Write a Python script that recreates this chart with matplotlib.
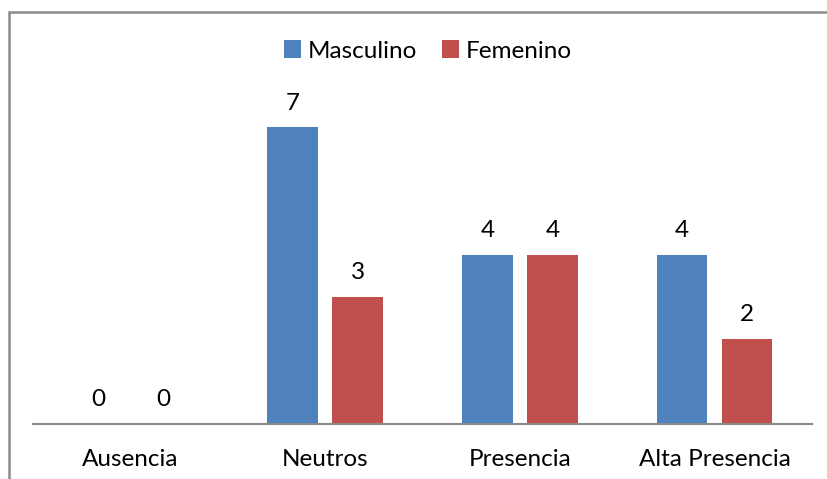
import matplotlib.pyplot as plt
import numpy as np
from matplotlib.patches import Rectangle

categorias = ['Ausencia', 'Neutros', 'Presencia', 'Alta Presencia']
masculino = [0, 7, 4, 4]
femenino = [0, 3, 4, 2]

plt.rcParams['font.family'] = ['Lato', 'DejaVu Sans']
fs = 17.5

fig = plt.figure(figsize=(8.27, 4.79), dpi=100)
ax = fig.add_axes([0.0399, 0.1148, 0.942, 0.7077])

x = np.arange(len(categorias))
ancho = 0.26
b1 = ax.bar(x - 0.167, masculino, ancho, color='#4F81BD', label='Masculino')
b2 = ax.bar(x + 0.167, femenino, ancho, color='#C0504D', label='Femenino')

# etiquetas de valor encima de cada barra
for barras in (b1, b2):
    for b in barras:
        ax.annotate(str(int(b.get_height())),
                    (b.get_x() + b.get_width() / 2, b.get_height()),
                    xytext=(0, 10), textcoords='offset points',
                    ha='center', va='bottom', fontsize=fs)

ax.set_xlim(-0.5, 3.5)
ax.set_ylim(0, 8)
ax.set_xticks(x)
ax.set_xticklabels(categorias, fontsize=fs)
ax.tick_params(axis='x', length=0, pad=18)
ax.set_yticks([])
for s in ['top', 'right', 'left']:
    ax.spines[s].set_visible(False)
ax.spines['bottom'].set_color('#898989')
ax.spines['bottom'].set_linewidth(1.5)

ax.legend(loc='center', bbox_to_anchor=(428 / 827, 1 - 51 / 479),
          bbox_transform=fig.transFigure, ncol=2, frameon=False,
          fontsize=fs, handlelength=0.7, handleheight=0.7,
          handletextpad=0.3, columnspacing=1.0)

# marco del grafico (solo se ven los bordes superior e izquierdo)
fig.patches.append(Rectangle((9 / 827, -0.1), 1.2, 1 - 12 / 479 + 0.1,
                             transform=fig.transFigure, fill=False,
                             edgecolor='#8a8a8a', linewidth=1.8))

plt.savefig('out.png', dpi=100)
